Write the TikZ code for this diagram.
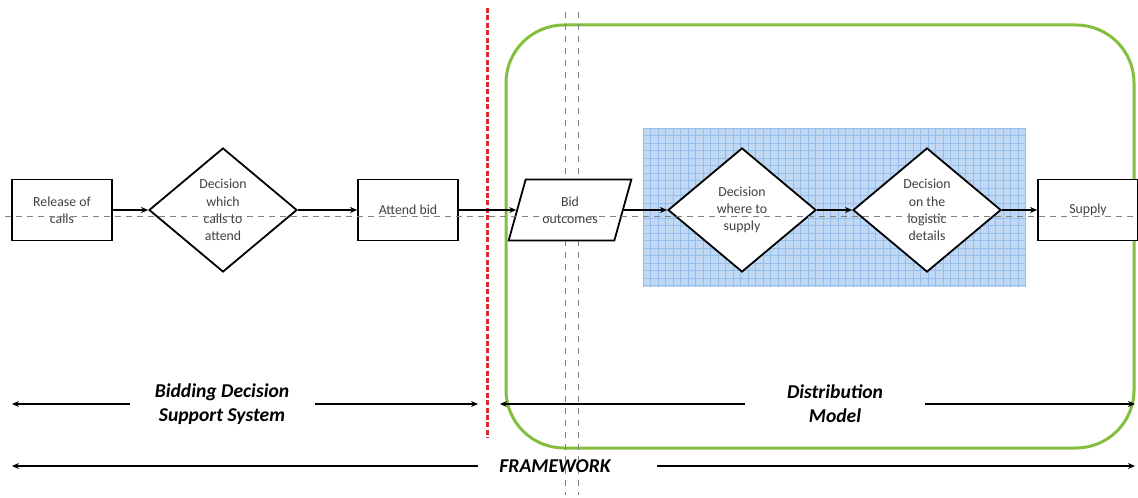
\documentclass[tikz,border=0pt]{standalone}
\usepackage{fontspec}
\setmainfont{Carlito}
\usetikzlibrary{shapes.geometric,arrows.meta}
\definecolor{gridfill}{RGB}{192,216,243}
\definecolor{gridline}{RGB}{150,190,234}
\definecolor{frameg}{RGB}{132,190,62}
\definecolor{redl}{RGB}{222,40,50}
\tikzset{
  smalltxt/.style={font=\fontsize{6.9}{8.6}\selectfont, text=black!75, align=center},
  bigtxt/.style={font=\fontsize{9.8}{12}\selectfont\bfseries\itshape, align=center},
  procbox/.style={draw, line width=0.9pt, fill=white, minimum width=50pt, minimum height=30.5pt, inner sep=0pt, smalltxt},
  decbox/.style={diamond, draw, line width=0.9pt, fill=white, minimum width=74pt, minimum height=62pt, inner sep=0pt, smalltxt},
  iobox/.style={trapezium, trapezium left angle=68.5, trapezium right angle=111.5, trapezium stretches=true, draw, line width=0.9pt, fill=white, minimum width=61.5pt, minimum height=30.5pt, inner sep=0pt, smalltxt},
  flow/.style={-{Stealth[length=3.5pt,width=3pt]}, line width=0.8pt},
  span/.style={-{Stealth[length=3.5pt,width=3pt]}, line width=0.7pt},
}
\begin{document}
\begin{tikzpicture}[x=0.5pt,y=-0.5pt]
\useasboundingbox (0,0) rectangle (1138,497);
% blue grid area
\fill[gridfill] (643,128) rectangle (1026,287);
\foreach \x in {643,650.5,...,1026} \draw[gridline, line width=0.35pt] (\x,128) -- (\x,287);
\foreach \y in {128,135.5,...,287} \draw[gridline, line width=0.35pt] (643,\y) -- (1026,\y);
% green frame
\draw[frameg, line width=1.5pt, rounded corners=29pt] (506,25) rectangle (1134,448);
% red divider
\draw[redl, line width=1.5pt, dash pattern=on 2.5pt off 1.2pt] (487,8) -- (487,438);
% grey vertical dashed lines
\draw[gray, line width=0.35pt, dash pattern=on 3pt off 3pt] (565,12) -- (565,495);
\draw[gray, line width=0.35pt, dash pattern=on 3pt off 3pt] (578,12) -- (578,495);
% nodes
\node[procbox] (rel) at (62,210) {Release of\\calls};
\node[decbox] (dec1) at (223,210) {Decision\\which\\calls to\\attend};
\node[procbox] (att) at (408,210) {Attend bid};
\node[iobox] (bid) at (570,210) {Bid\\outcomes};
\node[decbox] (dec2) at (742,210) {Decision\\where to\\supply};
\node[decbox] (dec3) at (927,210) {Decision\\on the\\logistic\\details};
\node[procbox] (sup) at (1088,210) {Supply};
% flow arrows
\draw[flow] (rel.east) -- (dec1.west);
\draw[flow] (dec1.east) -- (att.west);
\draw[flow] (att.east) -- (bid.west);
\draw[flow] (bid.east) -- (dec2.west);
\draw[flow] (dec2.east) -- (dec3.west);
\draw[flow] (dec3.east) -- (sup.west);
% horizontal dashed line
\draw[gray, line width=0.4pt, dash pattern=on 3pt off 2.5pt] (5,216) -- (1138,216);
% bottom spans
\node[bigtxt] (bdss) at (222,404) {Bidding Decision\\Support System};
\node[bigtxt] (dm) at (835,404) {Distribution\\Model};
\node[bigtxt] (fw) at (555,466) {FRAMEWORK};
\coordinate (bl) at (12,404);
\coordinate (bla) at (130,404);
\coordinate (blb) at (315,404);
\coordinate (br) at (478,404);
\coordinate (dl) at (500,404);
\coordinate (dla) at (745,404);
\coordinate (dlb) at (925,404);
\coordinate (dr) at (1135,404);
\coordinate (fl) at (12,466);
\coordinate (fla) at (478,466);
\coordinate (flb) at (657,466);
\coordinate (fr) at (1135,466);
\draw[span] (bla) -- (bl);
\draw[span] (blb) -- (br);
\draw[span] (dla) -- (dl);
\draw[span] (dlb) -- (dr);
\draw[span] (fla) -- (fl);
\draw[span] (flb) -- (fr);
\end{tikzpicture}
\end{document}
